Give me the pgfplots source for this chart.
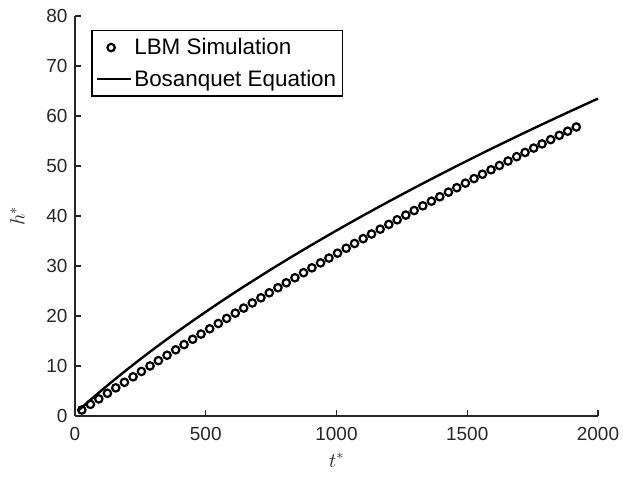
\documentclass[border=0pt]{standalone}
\usepackage{fontspec}
\setmainfont{Liberation Sans}
\usepackage{pgfplots}
\pgfplotsset{compat=1.18}
\usetikzlibrary{calc}
\definecolor{axgray}{RGB}{38,38,38}
\pgfplotsset{
  mymarklegend/.style={legend image code/.code={\draw[mark repeat=2,mark phase=2,##1] plot coordinates {(0bp,0bp) (12bp,0bp) (32bp,0bp)};}},
  mylinelegend/.style={legend image code/.code={\draw[##1] (-2bp,0bp) -- (32bp,0bp);}},
}
\begin{document}
\begin{tikzpicture}
\begin{axis}[
  scale only axis, width=523bp, height=400bp,
  xmin=0, xmax=2000, ymin=0, ymax=80,
  axis x line*=bottom, axis y line*=left,
  tick align=inside, major tick length=6bp,
  xtick={0,500,...,2000}, ytick={0,10,...,80},
  /pgf/number format/assume math mode=true,
  /pgf/number format/1000 sep={},
  ticklabel style={font=\fontsize{19}{22}\selectfont, text=axgray},
  xticklabel style={yshift=-8bp},
  yticklabel style={xshift=-4bp},
  axis line style={axgray, line width=1.1bp},
  every tick/.style={axgray, line width=1.1bp},
  xlabel={$t^*$}, ylabel={$h^*$},
  label style={font=\fontsize{22}{24}\selectfont, text=axgray},
  xlabel style={at={(axis description cs:0.5,-0.11)}, anchor=center},
  ylabel style={at={(axis description cs:-0.11,0.5)}, anchor=center},
  legend style={at={(0.031,0.965)}, anchor=north west, draw=black, line width=1.4bp,
    font=\fontsize{22.5}{25}\selectfont, inner xsep=4bp, inner ysep=6bp,
    row sep=10bp, cells={anchor=west}},
  legend cell align=left,
  clip=false,
]
\coordinate (bl) at (rel axis cs:0,0);
\coordinate (tr) at (rel axis cs:1,1);
\addplot[only marks, mark=o, mark size=3.7bp, line width=2.2bp, black, mymarklegend]
coordinates {
(26,1.20)(59,2.33)(91,3.42)(124,4.54)(156,5.63)(189,6.74)(222,7.84)(254,8.91)(287,10.01)(319,11.07)
(352,12.15)(385,13.23)(417,14.28)(450,15.35)(482,16.38)(515,17.44)(548,18.50)(580,19.52)(613,20.57)(645,21.58)
(678,22.61)(711,23.64)(743,24.64)(776,25.66)(808,26.64)(841,27.65)(874,28.66)(906,29.63)(939,30.62)(971,31.58)
(1004,32.57)(1037,33.55)(1069,34.50)(1102,35.47)(1134,36.40)(1167,37.36)(1200,38.32)(1232,39.24)(1265,40.18)(1297,41.09)
(1330,42.03)(1363,42.96)(1395,43.85)(1428,44.77)(1460,45.66)(1493,46.57)(1526,47.48)(1558,48.35)(1591,49.24)(1623,50.10)
(1656,50.99)(1689,51.87)(1721,52.71)(1754,53.58)(1786,54.42)(1819,55.28)(1852,56.13)(1884,56.96)(1917,57.80)
};
\addlegendentry{LBM Simulation}
\addplot[black, line width=2.4bp, no marks, mylinelegend]
coordinates {
(10,0.97)(50,2.82)(100,5.06)(150,7.23)(200,9.33)(250,11.37)(300,13.36)(350,15.29)(400,17.18)(450,19.03)
(500,20.83)(550,22.60)(600,24.33)(650,26.03)(700,27.69)(750,29.33)(800,30.93)(850,32.51)(900,34.06)(950,35.59)
(1000,37.10)(1050,38.58)(1100,40.04)(1150,41.48)(1200,42.90)(1250,44.30)(1300,45.69)(1350,47.05)(1400,48.40)(1450,49.74)
(1500,51.05)(1550,52.36)(1600,53.65)(1650,54.92)(1700,56.18)(1750,57.43)(1800,58.66)(1850,59.88)(1900,61.09)(1950,62.29)
(2000,63.48)
};
\addlegendentry{Bosanquet Equation}
\end{axis}
\pgfresetboundingbox
\path ($(bl)+(-75bp,-61bp)$) rectangle ($(tr)+(25bp,16bp)$);
\end{tikzpicture}
\end{document}
